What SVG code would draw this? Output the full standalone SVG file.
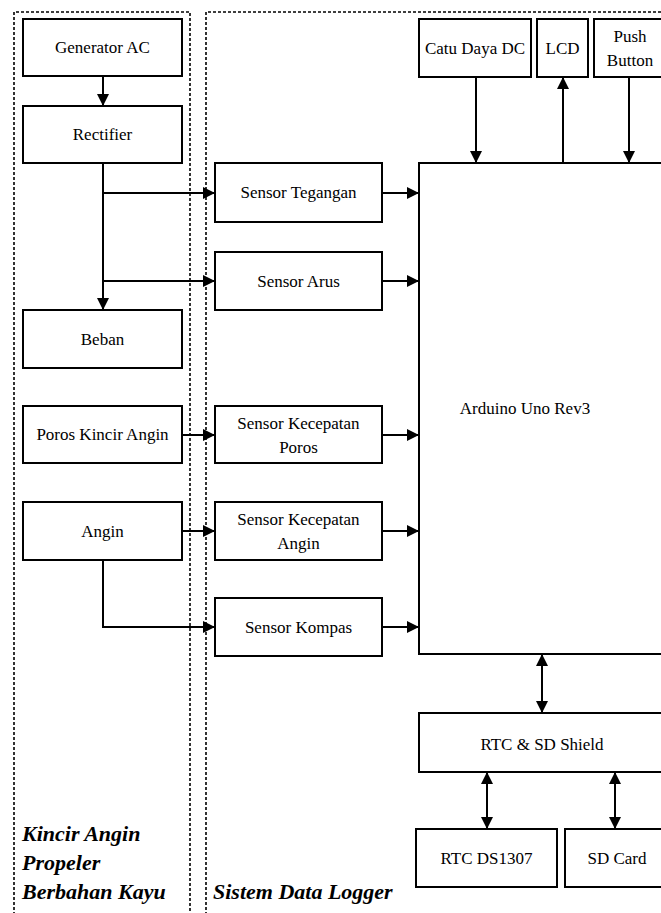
<svg xmlns="http://www.w3.org/2000/svg" width="661" height="913" viewBox="0 0 661 913">
<defs>
<marker id="ah" markerUnits="userSpaceOnUse" markerWidth="12" markerHeight="12" refX="12" refY="6" orient="auto-start-reverse"><path d="M0,0 L12,6 L0,12 z" fill="#000"/></marker>
<style>
.b{fill:#fff;stroke:#000;stroke-width:2}
.t{font-family:"Liberation Serif","Tinos","Times New Roman","Nimbus Roman","DejaVu Serif",serif;font-size:17px;font-weight:normal;font-style:normal;fill:#000;text-anchor:middle;dominant-baseline:central}
.l{font-family:"Liberation Serif","Tinos","Times New Roman","DejaVu Serif",serif;font-size:22px;font-weight:bold;font-style:italic;fill:#000}
.c{fill:none;stroke:#000;stroke-width:2}
.d{fill:none;stroke:#000;stroke-width:1.6;stroke-dasharray:3 2}
</style>
</defs>
<rect width="661" height="913" fill="#fff"/>
<g id="groups">
<path class="d" d="M14,920 V12 H190 V920"/>
<path class="d" d="M206,920 V12 H670"/>
<text class="l" x="22" y="841">Kincir Angin</text>
<text class="l" x="22" y="870">Propeler</text>
<text class="l" x="22" y="899">Berbahan Kayu</text>
<text class="l" x="213" y="899">Sistem Data Logger</text>
</g>
<g id="connectors">
<line class="c" x1="103" y1="76" x2="103" y2="106" marker-end="url(#ah)"/>
<line class="c" x1="103" y1="163" x2="103" y2="310" marker-end="url(#ah)"/>
<line class="c" x1="103" y1="193" x2="215" y2="193" marker-end="url(#ah)"/>
<line class="c" x1="103" y1="281" x2="215" y2="281" marker-end="url(#ah)"/>
<line class="c" x1="182" y1="435" x2="215" y2="435" marker-end="url(#ah)"/>
<line class="c" x1="182" y1="531" x2="215" y2="531" marker-end="url(#ah)"/>
<path class="c" d="M103,560 V627 H215" marker-end="url(#ah)"/>
<line class="c" x1="382" y1="193" x2="419" y2="193" marker-end="url(#ah)"/>
<line class="c" x1="382" y1="281" x2="419" y2="281" marker-end="url(#ah)"/>
<line class="c" x1="382" y1="435" x2="419" y2="435" marker-end="url(#ah)"/>
<line class="c" x1="382" y1="531" x2="419" y2="531" marker-end="url(#ah)"/>
<line class="c" x1="382" y1="627" x2="419" y2="627" marker-end="url(#ah)"/>
<line class="c" x1="476" y1="77" x2="476" y2="163" marker-end="url(#ah)"/>
<line class="c" x1="563" y1="163" x2="563" y2="77" marker-end="url(#ah)"/>
<line class="c" x1="629" y1="77" x2="629" y2="163" marker-end="url(#ah)"/>
<line class="c" x1="542" y1="654" x2="542" y2="713" marker-start="url(#ah)" marker-end="url(#ah)"/>
<line class="c" x1="487" y1="772" x2="487" y2="829" marker-start="url(#ah)" marker-end="url(#ah)"/>
<line class="c" x1="615" y1="772" x2="615" y2="829" marker-start="url(#ah)" marker-end="url(#ah)"/>
</g>
<g id="generator"><rect class="b" x="23" y="19" width="159" height="57"/><text class="t" x="102.5" y="47.5">Generator AC</text></g>
<g id="rectifier"><rect class="b" x="23" y="106" width="159" height="57"/><text class="t" x="102.5" y="134.5">Rectifier</text></g>
<g id="beban"><rect class="b" x="23" y="310" width="159" height="58"/><text class="t" x="102.5" y="339">Beban</text></g>
<g id="poros"><rect class="b" x="23" y="406" width="159" height="57"/><text class="t" x="102.5" y="434.5">Poros Kincir Angin</text></g>
<g id="angin"><rect class="b" x="23" y="502" width="159" height="58"/><text class="t" x="102.5" y="531">Angin</text></g>
<g id="s-tegangan"><rect class="b" x="215" y="163" width="167" height="59"/><text class="t" x="298.5" y="192.5">Sensor Tegangan</text></g>
<g id="s-arus"><rect class="b" x="215" y="252" width="167" height="58"/><text class="t" x="298.5" y="281">Sensor Arus</text></g>
<g id="s-poros"><rect class="b" x="215" y="406" width="167" height="57"/><text class="t" x="298.5" y="423">Sensor Kecepatan</text><text class="t" x="298.5" y="447">Poros</text></g>
<g id="s-angin"><rect class="b" x="215" y="502" width="167" height="58"/><text class="t" x="298.5" y="519">Sensor Kecepatan</text><text class="t" x="298.5" y="543">Angin</text></g>
<g id="s-kompas"><rect class="b" x="215" y="598" width="167" height="58"/><text class="t" x="298.5" y="627">Sensor Kompas</text></g>
<g id="arduino"><rect class="b" x="419" y="163" width="260" height="491"/><text class="t" x="525" y="408">Arduino Uno Rev3</text></g>
<g id="catu"><rect class="b" x="419" y="19" width="112" height="58"/><text class="t" x="475" y="48">Catu Daya DC</text></g>
<g id="lcd"><rect class="b" x="537" y="19" width="51" height="58"/><text class="t" x="562.5" y="48">LCD</text></g>
<g id="push"><rect class="b" x="594" y="19" width="75" height="58"/><text class="t" x="630" y="36">Push</text><text class="t" x="630" y="60">Button</text></g>
<g id="rtcsd"><rect class="b" x="419" y="713" width="260" height="59"/><text class="t" x="542" y="744">RTC &amp; SD Shield</text></g>
<g id="rtc"><rect class="b" x="416" y="829" width="141" height="58"/><text class="t" x="486.5" y="858">RTC DS1307</text></g>
<g id="sd"><rect class="b" x="565" y="829" width="110" height="58"/><text class="t" x="617" y="858">SD Card</text></g>
</svg>
